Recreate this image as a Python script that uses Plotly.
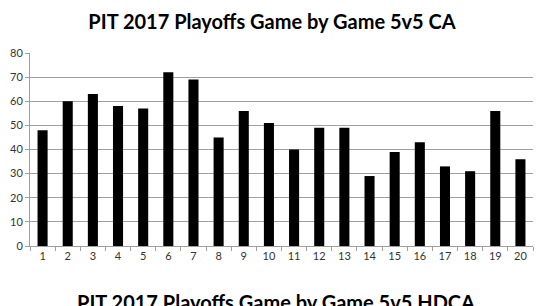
import plotly.graph_objects as go

games = [str(i) for i in range(1, 21)]
ca = [48, 60, 63, 58, 57, 72, 69, 45, 56, 51, 40, 49, 49, 29, 39, 43, 33, 31, 56, 36]
title1 = "PIT 2017 Playoffs Game by Game 5v5 CA"
title2 = "PIT 2017 Playoffs Game by Game 5v5 HDCA"

fig = go.Figure(go.Bar(x=games, y=ca, marker_color="black", marker_line_width=0))

H = 306
top, bottom = 53, 60
ph = H - top - bottom

fig.update_layout(
    width=544, height=H,
    margin=dict(l=30, r=11, t=top, b=bottom),
    paper_bgcolor="white", plot_bgcolor="white",
    bargap=0.6,
    showlegend=False,
    title=dict(text=f"<b>{title1}</b>", x=0.5, xanchor="center",
               y=1 - 22 / H, yanchor="middle",
               font=dict(family="Lato", size=20, color="black")),
    font=dict(family="Lato", size=11, color="#333"),
)
fig.add_annotation(text=f"<b>{title2}</b>", xref="paper", yref="paper",
                   x=0.49, xanchor="center", y=(246 - 288) / ph, yanchor="top",
                   showarrow=False, font=dict(family="Lato", size=20, color="black"))
fig.update_yaxes(range=[0, 80], dtick=10, showgrid=True, gridcolor="#a0a0a0", gridwidth=1,
                 showline=True, linecolor="#a0a0a0", ticks="outside", ticklen=4,
                 tickcolor="#a0a0a0", zeroline=False, tickfont=dict(size=11))
fig.update_xaxes(showline=True, linecolor="#a0a0a0", ticks="outside", ticklen=4,
                 tickcolor="#a0a0a0", tickson="boundaries", showgrid=False,
                 tickfont=dict(size=11))

fig.write_html("out.html")
